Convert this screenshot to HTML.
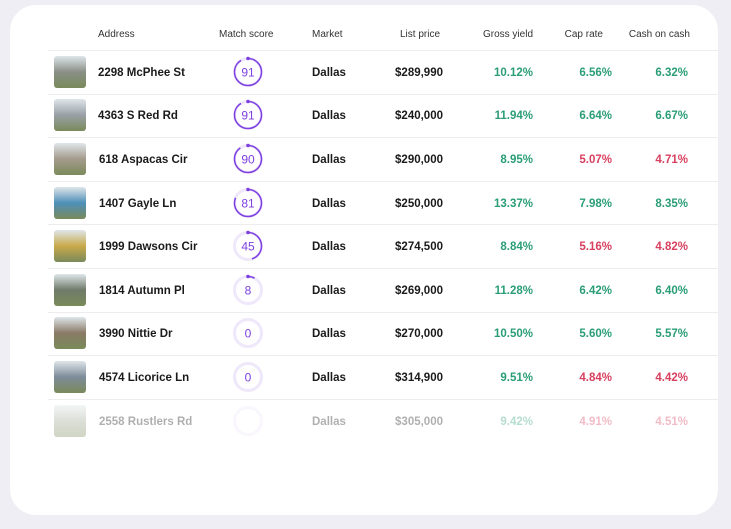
<!DOCTYPE html>
<html><head><meta charset="utf-8">
<style>
body{margin:0;width:731px;height:529px;background:#efeef4;font-family:"Liberation Sans",sans-serif;overflow:hidden;position:relative}
#card{position:absolute;left:10px;top:5px;width:708px;height:510px;background:#fff;border-radius:26px}
.h{position:absolute;top:29px;font-size:10px;color:#333}
.line{position:absolute;left:48px;width:670px;height:1px;background:#ededf0}
.t{position:absolute;font-size:11.5px;font-weight:bold;color:#1a1a1a;white-space:nowrap}
.thumb{position:absolute;left:54px;width:32px;height:32px;border-radius:3px}
</style></head><body>
<div id="card"></div>
<div class="h" style="left:98px">Address</div>
<div class="h" style="left:219px">Match score</div>
<div class="h" style="left:312px">Market</div>
<div class="h" style="left:340px;width:100px;text-align:right">List price</div>
<div class="h" style="left:433px;width:100px;text-align:right">Gross yield</div>
<div class="h" style="left:503px;width:100px;text-align:right">Cap rate</div>
<div class="h" style="left:590px;width:100px;text-align:right">Cash on cash</div>
<div id="rows"></div>
<script>
const addresses=["2298 McPhee St","4363 S Red Rd","618 Aspacas Cir","1407 Gayle Ln","1999 Dawsons Cir","1814 Autumn Pl","3990 Nittie Dr","4574 Licorice Ln","2558 Rustlers Rd"];
const scores=[91,91,90,81,45,8,0,0,null];
const markets=["Dallas","Dallas","Dallas","Dallas","Dallas","Dallas","Dallas","Dallas","Dallas"];
const prices=["$289,990","$240,000","$290,000","$250,000","$274,500","$269,000","$270,000","$314,900","$305,000"];
const grossYield=[10.12,11.94,8.95,13.37,8.84,11.28,10.50,9.51,9.42];
const capRate=[6.56,6.64,5.07,7.98,5.16,6.42,5.60,4.84,4.91];
const cashOnCash=[6.32,6.67,4.71,8.35,4.82,6.40,5.57,4.42,4.51];
const thumbColors=["#8a8f86","#9aa0a6","#a49b8c","#4d8fb8","#c9a94a","#6f7a6a","#8a7a66","#7d8c9a","#9aa590"];
const G="#2a9d77",R="#d8405f",P="#7d3fe0";
const rowsEl=document.getElementById('rows');
const top0=50,rh=43.6;
function add(parent,html){const d=document.createElement('div');d.innerHTML=html;const e=d.firstChild;parent.appendChild(e);return e;}
const hl=add(document.body,`<div class="line" style="top:${top0}px"></div>`);


addresses.forEach((a,i)=>{
  const cy=top0+rh*(i+0.5);
  const ty=cy-5;
  const row=document.createElement('div');
  
  
  if(i===8) row.style.opacity='0.35';
  rowsEl.appendChild(row);
  const th=add(row,`<div class="thumb" style="top:${cy-16}px;background:linear-gradient(180deg,#dfe6ea 0%,${thumbColors[i]} 50%,#7a8a5a 100%)"></div>`);
  
  
  const ad=add(row,`<div class="t" style="left:${i<2?98:99}px;top:${ty}px">${a}</div>`);
  
  
  const s=scores[i];const r=12;const frac=s==null?0:s/100;
  const sv=add(row,`<svg style="position:absolute;left:${248-16}px;top:${cy-16}px" width="32" height="32"><circle cx="16" cy="16" r="${r+1.5}" fill="none" stroke="#efe8fb" stroke-width="3"/><circle cx="16" cy="16" r="${r+1.5}" fill="none" stroke="${P}" stroke-width="1.5" stroke-dasharray="${frac*2*Math.PI*(r+1.5)} 999" transform="rotate(-90 16 16)"/>${s!=null&&s>0?`<circle cx="16" cy="${16-r-1.5}" r="1.8" fill="${P}"/>`:''}<text x="16" y="20.5" text-anchor="middle" font-size="12" fill="${P}" font-family="Liberation Sans">${s==null?'':s}</text></svg>`);
  
  
  const m=add(row,`<div class="t" style="left:312px;top:${ty}px">${markets[i]}</div>`);
  
  
  const p=add(row,`<div class="t" style="left:343px;width:100px;text-align:right;top:${ty}px">${prices[i]}</div>`);
  
  
  const gy=add(row,`<div class="t" style="left:433px;width:100px;text-align:right;top:${ty}px;color:${G}">${grossYield[i].toFixed(2)}%</div>`);
  
  
  const cr=add(row,`<div class="t" style="left:512px;width:100px;text-align:right;top:${ty}px;color:${capRate[i]>=5.5?G:R}">${capRate[i].toFixed(2)}%</div>`);
  
  
  const cc=add(row,`<div class="t" style="left:588px;width:100px;text-align:right;top:${ty}px;color:${cashOnCash[i]>=5.5?G:R}">${cashOnCash[i].toFixed(2)}%</div>`);
  
  
  if(i<8){const l=add(row,`<div class="line" style="top:${top0+rh*(i+1)}px"></div>`);
  
  }
});
</script>
</body></html>
